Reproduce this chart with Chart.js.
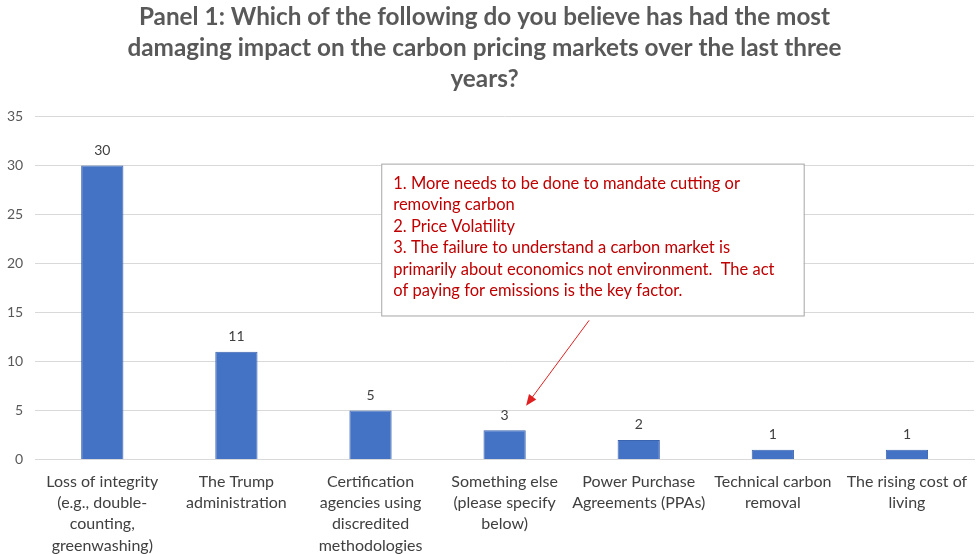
<!DOCTYPE html>
<html>
<head>
<meta charset="utf-8">
<script src="https://cdn.jsdelivr.net/npm/chart.js@4"></script>
<style>
html,body{margin:0;padding:0;background:#fff;}
#wrap{width:980px;height:554px;position:relative;}
</style>
</head>
<body>
<div id="wrap"><canvas id="panelChart"></canvas></div>
<script>
const titleLines = [
"Panel 1: Which of the following do you believe has had the most",
"damaging impact on the carbon pricing markets over the last three",
"years?"
];

const categories = [
["Loss of integrity","(e.g., double-","counting,","greenwashing)"],
["The Trump","administration"],
["Certification","agencies using","discredited","methodologies"],
["Something else","(please specify","below)"],
["Power Purchase","Agreements (PPAs)"],
["Technical carbon","removal"],
["The rising cost of","living"]
];

const responses = [30, 11, 5, 3, 2, 1, 1];

const yTicks = [0, 5, 10, 15, 20, 25, 30, 35];

const noteLines = [
"1. More needs to be done to mandate cutting or",
"removing carbon",
"2. Price Volatility",
"3. The failure to understand a carbon market is",
"primarily about economics not environment.  The act",
"of paying for emissions is the key factor."
];

// note box and arrow, placed in data units (category index, value)
const noteBox = {x1: 2.08, x2: 5.23, y1: 30.2, y2: 14.7};
const noteArrow = {fromX: 3.63, fromY: 14.2, toX: 3.16, toY: 5.5};

const FONT = "Lato, 'Open Sans', sans-serif";

const valueLabels = {
id:"valueLabels",
afterDatasetsDraw(chart){
const ctx = chart.ctx;
const meta = chart.getDatasetMeta(0);
ctx.save();
ctx.font = "14px " + FONT;
ctx.fillStyle = "#404040";
ctx.textAlign = "center";
ctx.textBaseline = "bottom";
meta.data.forEach((bar,i) => {
ctx.fillText(responses[i], bar.x, bar.y - 8);
});
ctx.restore();
}
};

const notePlugin = {
id:"notePlugin",
afterDraw(chart){
const ctx = chart.ctx;
const xs = chart.scales.x;
const ys = chart.scales.y;
let left = xs.getPixelForValue(noteBox.x1);
let right = xs.getPixelForValue(noteBox.x2);
let top = ys.getPixelForValue(noteBox.y1);
let bottom = ys.getPixelForValue(noteBox.y2);
ctx.save();
ctx.fillStyle = "#ffffff";
ctx.fillRect(left, top, right-left, bottom-top);
ctx.strokeStyle = "#a6a6a6";
ctx.lineWidth = 1;
ctx.strokeRect(left+0.5, top+0.5, right-left, bottom-top);
ctx.fillStyle = "#c00000";
ctx.font = "16.5px " + FONT;
ctx.textAlign = "left";
ctx.textBaseline = "middle";
noteLines.forEach((line,i) => {
ctx.fillText(line, left + 12, top + 20 + i*21.5);
});

// arrow
let fx = xs.getPixelForValue(noteArrow.fromX);
let fy = ys.getPixelForValue(noteArrow.fromY);
let tx = xs.getPixelForValue(noteArrow.toX);
let ty = ys.getPixelForValue(noteArrow.toY);
let ang = Math.atan2(ty-fy, tx-fx);
ctx.strokeStyle = "#e02020";
ctx.fillStyle = "#e02020";
ctx.lineWidth = 1;
ctx.beginPath();
ctx.moveTo(fx, fy);
ctx.lineTo(tx - 8*Math.cos(ang), ty - 8*Math.sin(ang));
ctx.stroke();
ctx.beginPath();
ctx.moveTo(tx, ty);
ctx.lineTo(tx - 11*Math.cos(ang) + 4.5*Math.sin(ang), ty - 11*Math.sin(ang) - 4.5*Math.cos(ang));
ctx.lineTo(tx - 11*Math.cos(ang) - 4.5*Math.sin(ang), ty - 11*Math.sin(ang) + 4.5*Math.cos(ang));
ctx.closePath();
ctx.fill();
ctx.restore();
}
};

new Chart(document.getElementById("panelChart"), {
type:"bar",
data:{
labels:categories,
datasets:[{
label:"Responses",
data:responses,
backgroundColor:"#4472c4",
borderColor:"#3a64b0",
borderWidth:1,
barPercentage:0.315,
categoryPercentage:1
}]
},
options:{
responsive:true,
maintainAspectRatio:false,
animation:false,
layout:{padding:{left:-5,right:6,top:0,bottom:-14}},
plugins:{
legend:{display:false},
tooltip:{enabled:false},
title:{
display:true,
text:titleLines,
color:"#595959",
font:{family:FONT,size:24.3,weight:"bold",lineHeight:1.27},
padding:{top:2,bottom:22}
}
},
scales:{
x:{
grid:{display:false,drawTicks:false},
border:{color:"#d9d9d9"},
ticks:{
color:"#404040",
font:{family:FONT,size:16,lineHeight:1.32},
maxRotation:0,
autoSkip:false,
padding:12
}
},
y:{
min:0,
max:35,
afterBuildTicks(axis){
axis.ticks = yTicks.map(v => ({value:v}));
},
grid:{color:"#d9d9d9",drawTicks:false},
border:{display:false},
ticks:{
color:"#595959",
font:{family:FONT,size:14},
padding:12
}
}
}
},
plugins:[valueLabels, notePlugin]
});
</script>
</body>
</html>
